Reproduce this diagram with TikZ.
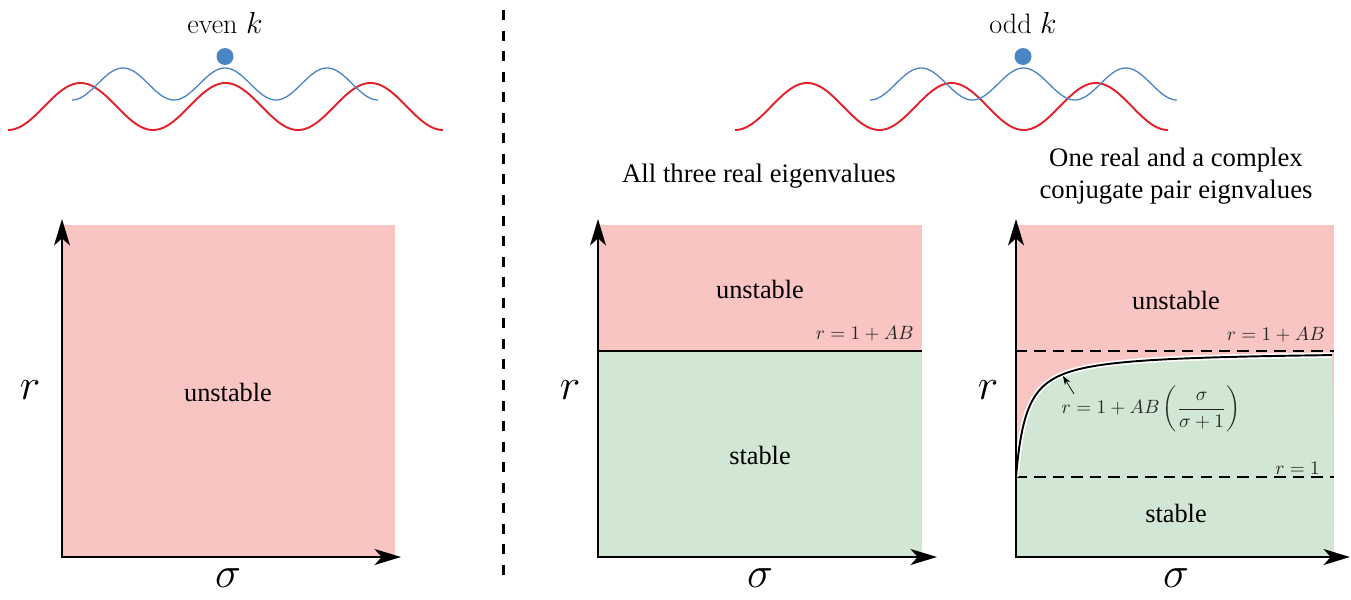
\documentclass[tikz,border=0pt]{standalone}
\usepackage{fontspec}
\usepackage{amsmath}
\usepackage{xcolor}
\usepackage{tikz}
\usetikzlibrary{arrows.meta}

\newfontfamily\timesfont{Liberation Serif}

\definecolor{unstablered}{HTML}{F8C5C3}
\definecolor{stablegreen}{HTML}{D1E7D3}
\definecolor{wavered}{HTML}{E0232B}
\definecolor{waveblue}{HTML}{4A86C6}

\begin{document}
\begin{tikzpicture}[
    x=0.02cm,
    y=-0.02cm,
    axes/.style={
        line width=1.6pt,
        {Stealth[length=15pt,width=9pt,inset=4pt]}-{Stealth[length=15pt,width=9pt,inset=4pt]}
    },
    region/.style={
        font=\timesfont\fontsize{15}{18}\selectfont
    },
    title/.style={
        align=center,
        font=\timesfont\fontsize{15.2}{18.5}\selectfont
    },
    caselabel/.style={
        font=\fontsize{16}{19}\selectfont
    },
    varlabel/.style={
        font=\fontsize{30}{36}\selectfont
    },
    valuelabel/.style={
        anchor=east,
        text=black!85,
        font=\fontsize{10.5}{12}\selectfont
    },
    redwave/.style={
        wavered,
        line width=1.1pt,
        samples=200
    },
    bluewave/.style={
        waveblue,
        line width=0.75pt,
        samples=200
    },
    dot/.style={
        circle,
        fill=waveblue,
        inner sep=0pt,
        minimum size=0.34cm
    },
    refline/.style={
        line width=1.1pt,
        dash pattern=on 6.5pt off 4pt
    },
    pointer/.style={
        line width=0.4pt,
        -{Stealth[length=5pt,width=3.5pt]}
    }
]

\useasboundingbox (0,0) rectangle (1351,599);

% even k
\node[caselabel] (evenlbl) at (225,23) {even $k$};
\node[dot] (evendot) at (225,56.5) {};
\draw[redwave] plot[domain=8:443] (\x, {106.5+23.5*cos((\x-8)/145*360)});
\draw[bluewave] plot[domain=72:378] (\x, {84+16*cos((\x-72)/102*360)});

% odd k
\node[caselabel] (oddlbl) at (1023,23) {odd $k$};
\node[dot] (odddot) at (1023,56.5) {};
\draw[redwave] plot[domain=735:1168] (\x, {106.5+23.5*cos((\x-735)/144.33*360)});
\draw[bluewave] plot[domain=870:1177] (\x, {84+16*cos((\x-870)/102.33*360)});

% divider
\coordinate (divtop) at (503,10);
\coordinate (divbot) at (503,580);
\draw[line width=1.7pt, dash pattern=on 5.7pt off 6pt] (divtop) -- (divbot);

% left plot
\fill[unstablered] (62,225) rectangle (395,557);
\coordinate (ltop) at (62,219);
\coordinate (lright) at (401,557);
\draw[axes] (ltop) |- (lright);
\node[region] (lunst) at (228,392) {unstable};
\node[varlabel] (lr) at (30,390) {$r$};
\node[varlabel] (ls) at (228,578) {$\sigma$};

% middle plot
\node[title] (mtitle) at (759,176) {All three real eigenvalues};
\fill[unstablered] (598,225) rectangle (922,351);
\fill[stablegreen] (598,351) rectangle (922,557);
\coordinate (mline0) at (598,351);
\coordinate (mline1) at (922,351);
\draw[line width=1.1pt] (mline0) -- (mline1);
\node[valuelabel] (mval) at (920,334) {$r=1+AB$};
\coordinate (mtop) at (598,219);
\coordinate (mright) at (937,557);
\draw[axes] (mtop) |- (mright);
\node[region] (munst) at (760,289) {unstable};
\node[region] (mstab) at (760,455) {stable};
\node[varlabel] (mr) at (570,390) {$r$};
\node[varlabel] (ms) at (760,578) {$\sigma$};

% right plot
\node[title] (rtitle) at (1176,176) {One real and a complex\\conjugate pair eignvalues};
\fill[unstablered] (1016,225) rectangle (1334,557);
\fill[stablegreen] (1016,557) -- plot[domain=0:1, samples=150, variable=\t]
    ({1016+318*\t^3}, {477-126*30*\t^3/(30*\t^3+1)}) -- (1334,557) -- cycle;
\coordinate (rup0) at (1016,351);
\coordinate (rup1) at (1334,351);
\coordinate (rlo0) at (1016,477);
\coordinate (rlo1) at (1334,477);
\draw[refline] (rup0) -- (rup1);
\draw[refline] (rlo0) -- (rlo1);
\draw[white, line width=3pt] plot[domain=0:1, samples=150, variable=\t]
    ({1016+318*\t^3}, {477-126*30*\t^3/(30*\t^3+1)});
\draw[line width=1.1pt] plot[domain=0:1, samples=150, variable=\t]
    ({1016+318*\t^3}, {477-126*30*\t^3/(30*\t^3+1)});
\node[valuelabel] (rval1) at (1331,335) {$r=1+AB$};
\node[valuelabel] (rval0) at (1326,468) {$r=1$};
\node[text=black!85, font=\fontsize{11}{13}\selectfont] (rcurve) at (1151,409)
    {$r=1+AB\left(\dfrac{\sigma}{\sigma+1}\right)$};
\coordinate (ctail) at (1074,394);
\coordinate (ctip) at (1063,376);
\draw[pointer] (ctail) -- (ctip);
\coordinate (rtop) at (1016,219);
\coordinate (rright) at (1350,557);
\draw[axes] (rtop) |- (rright);
\node[region] (runst) at (1176,300) {unstable};
\node[region] (rstab) at (1176,513) {stable};
\node[varlabel] (rr) at (988,390) {$r$};
\node[varlabel] (rs) at (1176,578) {$\sigma$};

\end{tikzpicture}
\end{document}
